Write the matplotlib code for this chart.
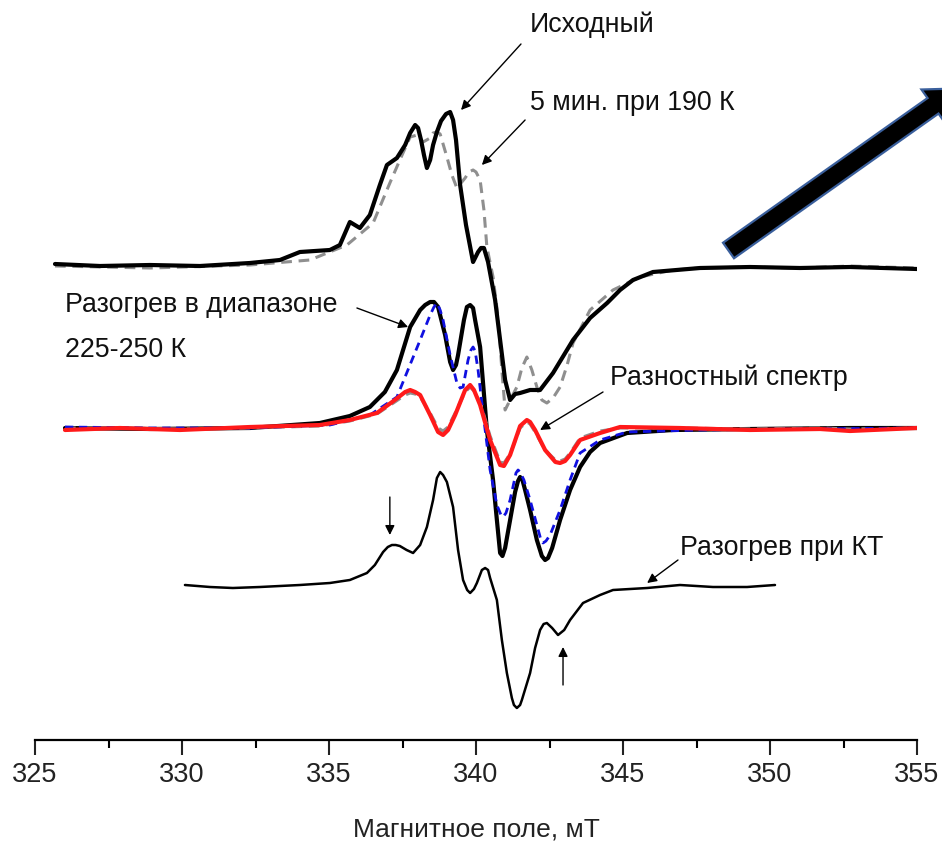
#!/usr/bin/env python3
"""
EPR spectra stack: initial, 5 min at 190 K, warming 225-250 K, difference, warming at RT
"""

import numpy as np
import matplotlib.pyplot as plt
from matplotlib.ticker import MultipleLocator
from matplotlib.patches import FancyArrow

plt.rcParams['font.family'] = ['Liberation Sans', 'DejaVu Sans']

# each spectrum: (field in mT, intensity relative to its own baseline)
initial = [(325.68, 2), (327.21, 0), (328.91, 1), (330.61, 0), (332.31, 3), (333.33, 6), (334.01, 14),
           (335.03, 16), (335.37, 21), (335.71, 44), (336.05, 38), (336.39, 51), (336.73, 81),
           (336.97, 101), (337.31, 108), (337.59, 121), (337.76, 133), (337.93, 141), (338.03, 138),
           (338.13, 126), (338.23, 111), (338.33, 98), (338.44, 106), (338.54, 121), (338.67, 134),
           (338.81, 145), (338.98, 152), (339.12, 154), (339.22, 146), (339.32, 126), (339.46, 81),
           (339.66, 41), (339.90, 4), (340.07, 14), (340.17, 18), (340.27, 18), (340.41, 4),
           (340.65, -34), (340.82, -74), (340.99, -114), (341.16, -134), (341.33, -128), (341.50, -127),
           (341.84, -124), (342.18, -124), (342.62, -107), (343.30, -74), (343.88, -52), (344.46, -37),
           (344.90, -24), (345.34, -14), (346.02, -6), (347.62, -2), (349.32, -1), (351.02, -2),
           (352.72, -1), (355.0, -3)]

after_190k = [(325.68, 0), (328.91, -2), (332.31, 1), (334.35, 6), (335.61, 21), (336.50, 43),
              (337.07, 83), (337.41, 106), (337.76, 129), (338.00, 131), (338.20, 124), (338.44, 128),
              (338.54, 133), (338.67, 134), (338.78, 132), (338.84, 126), (339.01, 109), (339.18, 91),
              (339.35, 78), (339.63, 88), (339.76, 94), (339.90, 96), (340.00, 94), (340.14, 86),
              (340.27, 56), (340.37, 19), (340.58, -11), (340.75, -51), (340.88, -104), (340.99, -144),
              (341.16, -134), (341.39, -121), (341.56, -102), (341.73, -91), (341.90, -104),
              (342.07, -121), (342.24, -134), (342.41, -137), (342.62, -132), (342.86, -121),
              (343.10, -99), (343.30, -77), (343.88, -44), (344.66, -24), (345.58, -11), (346.70, -4),
              (347.62, -2), (349.32, -1), (351.02, -2), (352.72, 0), (355.0, -2)]

warm_225_250 = [(326.02, 0), (328.91, -1), (332.31, 0), (334.69, 5), (335.71, 12), (336.39, 21),
                (336.90, 36), (337.31, 58), (337.76, 101), (338.10, 118), (338.27, 123), (338.44, 126),
                (338.57, 126), (338.71, 121), (338.95, 93), (339.12, 66), (339.22, 58), (339.32, 63),
                (339.39, 73), (339.59, 108), (339.69, 121), (339.80, 123), (339.90, 120), (339.97, 108),
                (340.14, 81), (340.37, -2), (340.58, -52), (340.71, -92), (340.82, -125), (340.90, -128),
                (340.99, -120), (341.16, -92), (341.33, -64), (341.43, -53), (341.50, -49), (341.58, -52),
                (341.67, -62), (341.84, -82), (342.07, -112), (342.24, -128), (342.35, -132),
                (342.45, -130), (342.59, -120), (342.86, -92), (343.20, -62), (343.54, -39),
                (343.88, -24), (344.22, -15), (345.14, -5), (346.70, -2), (349.32, -1), (352.72, 0),
                (355.0, 0)]

blue_dashed = [(326.02, 1), (328.91, 0), (332.31, 0), (335.03, 3), (336.39, 13), (337.31, 31),
               (338.10, 88), (338.44, 113), (338.57, 121), (338.67, 125), (338.78, 118), (338.88, 108),
               (339.12, 73), (339.35, 45), (339.46, 40), (339.56, 41), (339.73, 68), (339.83, 78),
               (339.90, 81), (339.97, 77), (340.07, 58), (340.24, 15), (340.48, -42), (340.71, -77),
               (340.85, -87), (340.92, -89), (341.02, -85), (341.16, -72), (341.36, -45), (341.43, -42),
               (341.50, -44), (341.63, -52), (341.84, -72), (342.07, -97), (342.20, -111), (342.28, -115),
               (342.38, -113), (342.52, -107), (342.86, -82), (343.20, -52), (343.54, -25), (344.22, -12),
               (345.14, -4), (347.62, -2), (351.02, -1), (355.0, 0)]

difference = [(326.02, -2), (327.89, 0), (329.93, -2), (332.31, 1), (334.69, 3), (335.71, 8),
              (336.63, 15), (337.24, 28), (337.59, 36), (337.76, 38), (337.93, 36), (338.10, 33),
              (338.44, 13), (338.71, -4), (338.88, -7), (339.05, -2), (339.29, 13), (339.63, 38),
              (339.80, 43), (339.93, 38), (340.14, 23), (340.48, -12), (340.82, -37), (340.95, -38),
              (341.16, -27), (341.50, 2), (341.73, 8), (341.84, 6), (342.01, -2), (342.35, -22),
              (342.70, -34), (342.86, -35), (343.03, -33), (343.20, -27), (343.54, -12), (344.22, -5),
              (344.90, 1), (346.94, 0), (349.32, -2), (351.70, -1), (352.72, -3), (355.0, 0)]

grey_mid = [(326.02, 0), (327.89, 0), (329.93, -1), (332.31, 0), (334.69, 2), (335.71, 7),
            (336.63, 14), (337.24, 26), (337.59, 33), (337.76, 35), (337.93, 34), (338.10, 31),
            (338.44, 15), (338.71, 0), (338.88, -3), (339.05, 1), (339.29, 15), (339.63, 36),
            (339.80, 41), (339.93, 37), (340.14, 26), (340.48, -8), (340.82, -34), (340.95, -35),
            (341.16, -26), (341.50, 0), (341.73, 6), (341.84, 4), (342.01, -4), (342.35, -22),
            (342.70, -32), (342.86, -33), (343.03, -31), (343.20, -25), (343.54, -10), (344.22, -3),
            (344.90, 0), (346.94, 0), (349.32, -1), (351.70, 0), (352.72, -1), (355.0, 0)]

warm_rt = [(330.10, 1), (330.95, -1), (331.73, -2), (332.65, -1), (334.01, 1), (335.03, 3), (335.71, 6),
           (336.29, 13), (336.56, 21), (336.84, 34), (337.00, 39), (337.14, 41), (337.27, 41),
           (337.41, 40), (337.64, 36), (337.86, 33), (338.10, 41), (338.33, 59), (338.54, 86),
           (338.67, 108), (338.78, 114), (338.88, 111), (339.01, 104), (339.22, 79), (339.39, 36),
           (339.56, 6), (339.70, -4), (339.80, -7), (339.93, -3), (340.03, 3), (340.20, 16),
           (340.31, 18), (340.41, 16), (340.48, 8), (340.71, -14), (340.88, -54), (341.05, -87),
           (341.22, -112), (341.29, -119), (341.39, -122), (341.50, -119), (341.56, -114),
           (341.84, -87), (342.01, -62), (342.18, -44), (342.30, -38), (342.41, -37), (342.59, -42),
           (342.79, -49), (343.00, -44), (343.20, -34), (343.64, -17), (344.22, -9), (344.66, -4),
           (345.82, -2), (346.94, 1), (348.06, -1), (349.22, -1), (350.17, 1)]

# vertical offsets of the three groups
off_top, off_mid, off_bot = 474, 312, 154


def draw(ax, spec, offset, **kw):
    b, v = np.array(spec, dtype=float).T
    ax.plot(b, v + offset, solid_joinstyle='round', solid_capstyle='round', **kw)


fig = plt.figure(figsize=(9.42, 8.43), dpi=100)
ax = fig.add_axes([35 / 942, 103 / 843, 882 / 942, 740 / 843])

grey_dash = dict(color='#8f8f8f', lw=2.2, ls=(0, (3.5, 2.2)))
draw(ax, after_190k, off_top, **grey_dash)
draw(ax, initial, off_top, color='black', lw=3.0)

draw(ax, warm_225_250, off_mid, color='black', lw=3.0)
draw(ax, grey_mid, off_mid, **grey_dash)
draw(ax, blue_dashed, off_mid, color='#1010e0', lw=2.0, ls=(0, (3, 2)))
draw(ax, difference, off_mid, color='#ff1a1a', lw=3.0)

draw(ax, warm_rt, off_bot, color='black', lw=1.8)

ax.set_xlim(325, 355)
ax.set_ylim(0, 740)
ax.xaxis.set_major_locator(MultipleLocator(5))
ax.xaxis.set_minor_locator(MultipleLocator(2.5))
ax.tick_params(axis='x', which='major', length=11, width=1.5, pad=5, labelsize=19.5, colors='#222222')
ax.tick_params(axis='x', which='minor', length=6, width=1.5)
ax.tick_params(axis='y', left=False, labelleft=False)
for s in ['left', 'right', 'top']:
    ax.spines[s].set_visible(False)
ax.spines['bottom'].set_linewidth(1.6)
ax.set_xlabel('Магнитное поле, мТ', fontsize=19, labelpad=21, color='#222222')

# annotations
txt = dict(fontsize=19.3, color='#111111', va='center', ha='left')
arw = dict(arrowstyle='-|>', color='black', lw=1.0, mutation_scale=14, shrinkA=0, shrinkB=0)

ax.text(341.84, 715, 'Исходный', **txt)
ax.annotate('', xy=(339.49, 630), xytext=(341.53, 696), arrowprops=arw)
ax.text(341.84, 637, '5 мин. при 190 К', **txt)
ax.annotate('', xy=(340.20, 575), xytext=(341.67, 620), arrowprops=arw)
ax.text(326.02, 435, 'Разогрев в диапазоне', **txt)
ax.text(326.02, 390, '225-250 К', **txt)
ax.annotate('', xy=(337.69, 413), xytext=(335.95, 432), arrowprops=arw)
ax.text(344.56, 362, 'Разностный спектр', **txt)
ax.annotate('', xy=(342.18, 310), xytext=(344.32, 348), arrowprops=arw)
ax.text(346.94, 192, 'Разогрев при КТ', **txt)
ax.annotate('', xy=(345.82, 157), xytext=(346.87, 180), arrowprops=arw)
ax.annotate('', xy=(337.07, 205), xytext=(337.07, 243), arrowprops=arw)
ax.annotate('', xy=(342.96, 93), xytext=(342.96, 55), arrowprops=arw)

# big block arrow in pixel space
over = fig.add_axes([0, 0, 1, 1])
over.set_xlim(0, 942)
over.set_ylim(843, 0)
over.set_axis_off()
over.add_patch(FancyArrow(728.5, 250.5, 229, -162, width=19, head_width=40, head_length=30,
                          length_includes_head=True, facecolor='black',
                          edgecolor='#3a5f9c', lw=1.6, joinstyle='miter'))

fig.savefig('out.png', dpi=100)
